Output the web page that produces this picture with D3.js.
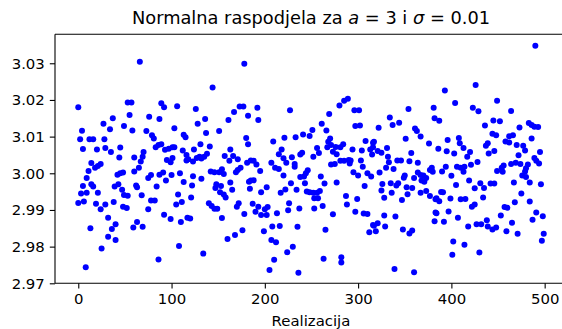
<!DOCTYPE html>
<html>
<head>
<meta charset="utf-8">
<script src="https://cdn.jsdelivr.net/npm/d3@7"></script>
<style>
  html, body { margin: 0; padding: 0; background: #ffffff; }
  svg { display: block; }
  text { font-family: "DejaVu Sans", sans-serif; }
</style>
</head>
<body>
<script>
// ---- data ----
const realizacija = [
  0,4,2,12,16,5,20,27,37,34,28,29,35,45,44,49,14,11,9,5,3,9,0,6,14,16,18,21,24,21,19,24,29,13,32,36,40,32,40,25,8,38,42,45,48,43,39,47,49,48,
  66,53,57,55,58,76,87,89,92,106,103,113,115,73,79,81,83,86,89,93,97,101,103,112,116,70,69,67,60,95,99,101,116,65,60,75,78,87,91,100,109,94,84,113,62,63,53,68,78,82,75,52,107,105,111,92,99,110,117,63,59,69,108,86,
  178,144,126,136,128,137,151,161,167,173,177,182,180,182,131,141,124,118,123,127,130,132,135,138,157,163,166,162,171,181,174,171,169,183,184,142,146,151,154,156,123,132,122,148,147,153,163,165,152,156,158,121,140,143,146,149,170,172,178,120,154,160,168,176,134,
  192,193,227,209,221,233,241,248,218,215,220,223,229,232,232,238,240,185,188,191,195,207,211,215,220,246,244,242,238,185,188,228,243,222,217,234,245,248,196,202,187,193,190,196,200,203,202,213,226,225,237,199,208,216,235,207,212,230,224,210,205,236,
  289,285,280,296,301,269,297,302,261,266,251,270,268,308,316,256,267,271,276,281,284,273,277,258,252,294,304,313,315,281,285,290,292,291,303,271,275,305,295,300,310,314,260,264,277,307,252,256,259,253,257,287,299,288,262,253,297,306,310,273,316,312,265,263,282,282,
  354,381,382,334,337,344,322,361,363,367,351,376,317,316,321,325,331,357,332,333,342,346,355,364,330,338,323,350,349,364,367,370,373,368,371,379,377,380,360,326,335,341,343,352,358,325,336,353,367,373,377,328,347,383,328,340,383,382,321,317,329,319,348,358,355,339,360,
  426,393,404,423,429,449,387,436,445,444,448,439,437,446,440,408,409,413,396,386,395,403,420,417,428,394,390,406,410,414,421,413,400,419,405,431,435,425,442,446,449,389,391,384,387,399,410,415,425,422,434,384,397,392,407,418,427,432,438,439,444,448,402,414,401,430,
  490,464,452,483,486,489,493,473,462,466,486,458,462,470,477,479,472,495,489,491,494,456,454,455,464,469,474,482,480,479,476,480,467,484,496,475,484,468,457,460,491,498,487,453,465,459,471,499,497
];
const vrijednosti = [
  3.0180,3.0116,3.0093,3.0093,3.0093,3.0066,3.0065,3.0135,3.0150,3.0120,3.0093,3.0069,3.0058,3.0070,3.0043,3.0129,3.0028,3.0006,2.9987,2.9965,2.9945,2.9947,2.9919,2.9923,2.9970,2.9964,3.0015,3.0020,3.0025,2.9947,2.9917,2.9902,2.9915,2.9850,2.9879,2.9848,2.9861,2.9827,2.9818,2.9795,2.9744,2.9922,2.9996,3.0000,3.0002,2.9970,2.9964,2.9955,2.9941,2.9909,
  3.0304,3.0193,3.0193,3.0159,3.0117,3.0154,3.0148,3.0191,3.0180,3.0183,3.0123,3.0105,3.0098,3.0115,3.0104,3.0095,3.0071,3.0077,3.0079,3.0064,3.0067,3.0071,3.0071,3.0062,3.0050,3.0058,3.0045,3.0032,3.0043,3.0036,3.0030,3.0042,3.0035,3.0015,3.0005,2.9987,2.9995,2.9996,3.0002,2.9995,3.0000,2.9980,2.9964,2.9976,2.9967,2.9962,2.9939,2.9940,2.9926,2.9926,2.9902,2.9905,2.9942,2.9915,2.9922,2.9887,2.9875,2.9867,2.9879,2.9867,2.9852,2.9854,2.9802,2.9765,
  3.0299,3.0234,3.0175,3.0148,3.0135,3.0110,3.0115,3.0145,3.0167,3.0182,3.0182,3.0157,3.0096,3.0079,3.0079,3.0073,3.0065,3.0038,3.0032,3.0042,3.0045,3.0040,3.0045,3.0053,3.0047,3.0065,3.0047,3.0034,3.0038,3.0029,3.0015,3.0009,3.0003,2.9977,2.9958,3.0005,3.0003,3.0003,3.0011,2.9998,2.9992,2.9985,2.9967,2.9970,2.9960,2.9965,2.9975,2.9955,2.9948,2.9942,2.9934,2.9934,2.9918,2.9911,2.9903,2.9903,2.9909,2.9918,2.9889,2.9877,2.9878,2.9821,2.9832,2.9845,2.9781,
  3.0179,3.0145,3.0172,3.0087,3.0097,3.0098,3.0106,3.0102,3.0065,3.0052,3.0041,3.0029,3.0044,3.0025,3.0018,3.0051,3.0056,3.0035,3.0034,3.0024,3.0006,3.0029,3.0015,3.0012,2.9994,3.0008,3.0000,2.9991,2.9990,2.9980,2.9981,2.9973,2.9973,2.9956,2.9947,2.9955,2.9950,2.9948,2.9948,2.9962,2.9917,2.9909,2.9895,2.9886,2.9902,2.9908,2.9886,2.9891,2.9918,2.9899,2.9904,2.9842,2.9855,2.9856,2.9854,2.9818,2.9812,2.9800,2.9785,2.9764,2.9736,2.9729,
  3.0203,3.0198,3.0185,3.0172,3.0172,3.0162,3.0129,3.0130,3.0135,3.0117,3.0118,3.0095,3.0086,3.0088,3.0083,3.0069,3.0071,3.0077,3.0072,3.0071,3.0079,3.0059,3.0052,3.0055,3.0045,3.0065,3.0062,3.0065,3.0051,3.0034,3.0034,3.0036,3.0035,3.0027,3.0035,3.0024,3.0025,3.0018,3.0003,2.9994,3.0000,2.9991,2.9991,2.9972,2.9975,2.9965,2.9947,2.9947,2.9952,2.9932,2.9932,2.9938,2.9930,2.9915,2.9911,2.9904,2.9895,2.9890,2.9889,2.9888,2.9859,2.9839,2.9846,2.9767,2.9771,2.9757,
  3.0175,3.0179,3.0150,3.0152,3.0132,3.0138,3.0124,3.0122,3.0115,3.0100,3.0094,3.0081,3.0086,3.0071,3.0061,3.0056,3.0069,3.0055,3.0045,3.0030,3.0035,3.0035,3.0033,3.0029,3.0015,3.0012,3.0002,2.9994,2.9988,3.0002,2.9995,2.9994,2.9987,2.9980,2.9977,3.0015,3.0009,3.0004,2.9987,2.9971,2.9973,2.9967,2.9973,2.9962,2.9960,2.9953,2.9947,2.9943,2.9947,2.9952,2.9938,2.9933,2.9927,2.9929,2.9885,2.9882,2.9893,2.9869,2.9864,2.9857,2.9855,2.9842,2.9847,2.9844,2.9836,2.9739,2.9730,
  3.0241,3.0226,3.0192,3.0179,3.0169,3.0198,3.0143,3.0130,3.0144,3.0108,3.0104,3.0082,3.0075,3.0061,3.0054,3.0096,3.0082,3.0069,3.0091,3.0067,3.0060,3.0054,3.0058,3.0045,3.0031,3.0018,3.0005,3.0018,3.0015,3.0018,3.0023,3.0004,2.9993,2.9980,2.9968,2.9973,2.9960,2.9959,2.9972,2.9972,3.0006,2.9949,2.9948,2.9932,2.9924,2.9931,2.9929,2.9930,2.9915,2.9909,2.9934,2.9891,2.9896,2.9868,2.9879,2.9855,2.9861,2.9861,2.9872,2.9855,2.9847,2.9852,2.9814,2.9805,2.9778,2.9784,
  3.0348,3.0170,3.0142,3.0137,3.0132,3.0127,3.0126,3.0125,3.0101,3.0104,3.0095,3.0087,3.0084,3.0077,3.0075,3.0062,3.0049,3.0058,3.0042,3.0034,3.0027,3.0021,3.0015,3.0004,3.0025,3.0029,3.0025,3.0024,3.0014,3.0005,2.9994,2.9990,2.9975,2.9975,2.9970,2.9945,2.9923,2.9921,2.9908,2.9906,2.9893,2.9883,2.9873,2.9885,2.9865,2.9842,2.9835,2.9835,2.9816
];
const xTicks = [0, 100, 200, 300, 400, 500];
const yTicks = [2.97, 2.98, 2.99, 3.00, 3.01, 3.02, 3.03];
const xLabel = "Realizacija";

// ---- layout ----
const W = 562, H = 329;
const mL = 55, mR = 567, mT = 34.3, mB = 283.3;
const tickFont = 14.9, titleFont = 17.8;

const svg = d3.select("body").append("svg").attr("width", W).attr("height", H);
svg.append("rect").attr("width", W).attr("height", H).attr("fill", "#fff");

const x = d3.scaleLinear().domain([-24.95, 523.95]).range([mL, mR]);
const y = d3.scaleLinear().domain([2.97, 3.0379]).range([mB, mT]);

svg.append("clipPath").attr("id", "clip")
  .append("rect").attr("x", mL).attr("y", mT).attr("width", mR - mL).attr("height", mB - mT);

const n = Math.min(realizacija.length, vrijednosti.length);
const pts = d3.range(n).map(i => ({ r: realizacija[i], v: vrijednosti[i] }));
svg.append("g").attr("clip-path", "url(#clip)")
  .selectAll("circle").data(pts).join("circle")
  .attr("cx", d => x(d.r)).attr("cy", d => y(d.v)).attr("r", 3)
  .attr("fill", "#0000ff");

// axes
const xAxis = d3.axisBottom(x).tickValues(xTicks).tickFormat(d3.format("d")).tickSize(5.2).tickPadding(4.6);
const yAxis = d3.axisLeft(y).tickValues(yTicks).tickFormat(d3.format(".2f")).tickSize(5.2).tickPadding(5);

const gx = svg.append("g").attr("transform", `translate(0,${mB})`).call(xAxis);
const gy = svg.append("g").attr("transform", `translate(${mL},0)`).call(yAxis);
[gx, gy].forEach(g => {
  g.select(".domain").remove();
  g.selectAll(".tick line").attr("stroke", "#000").attr("stroke-width", 1.1);
  g.selectAll(".tick text").attr("fill", "#000").style("font-size", tickFont + "px").style("font-family", "DejaVu Sans");
});

// spines (right spine falls outside the picture)
const sp = svg.append("g").attr("stroke", "#000").attr("stroke-width", 1.1).attr("fill", "none");
sp.append("line").attr("x1", mL).attr("x2", mL).attr("y1", mT).attr("y2", mB);
sp.append("line").attr("x1", mL).attr("x2", mR).attr("y1", mT).attr("y2", mT);
sp.append("line").attr("x1", mL).attr("x2", mR).attr("y1", mB).attr("y2", mB);
sp.append("line").attr("x1", mR).attr("x2", mR).attr("y1", mT).attr("y2", mB);

// axis label
svg.append("text").attr("x", (mL + mR) / 2).attr("y", 325.5)
  .attr("text-anchor", "middle").style("font-size", tickFont + "px").attr("fill", "#000").text(xLabel);

// title
const t = svg.append("text").attr("x", (mL + mR) / 2).attr("y", 24)
  .attr("text-anchor", "middle").style("font-size", titleFont + "px").attr("fill", "#000");
t.append("tspan").text("Normalna raspodjela za ");
t.append("tspan").style("font-style", "italic").text("a");
t.append("tspan").text(" = 3 i ");
t.append("tspan").style("font-style", "italic").text("σ");
t.append("tspan").text(" = 0.01");
</script>
</body>
</html>
